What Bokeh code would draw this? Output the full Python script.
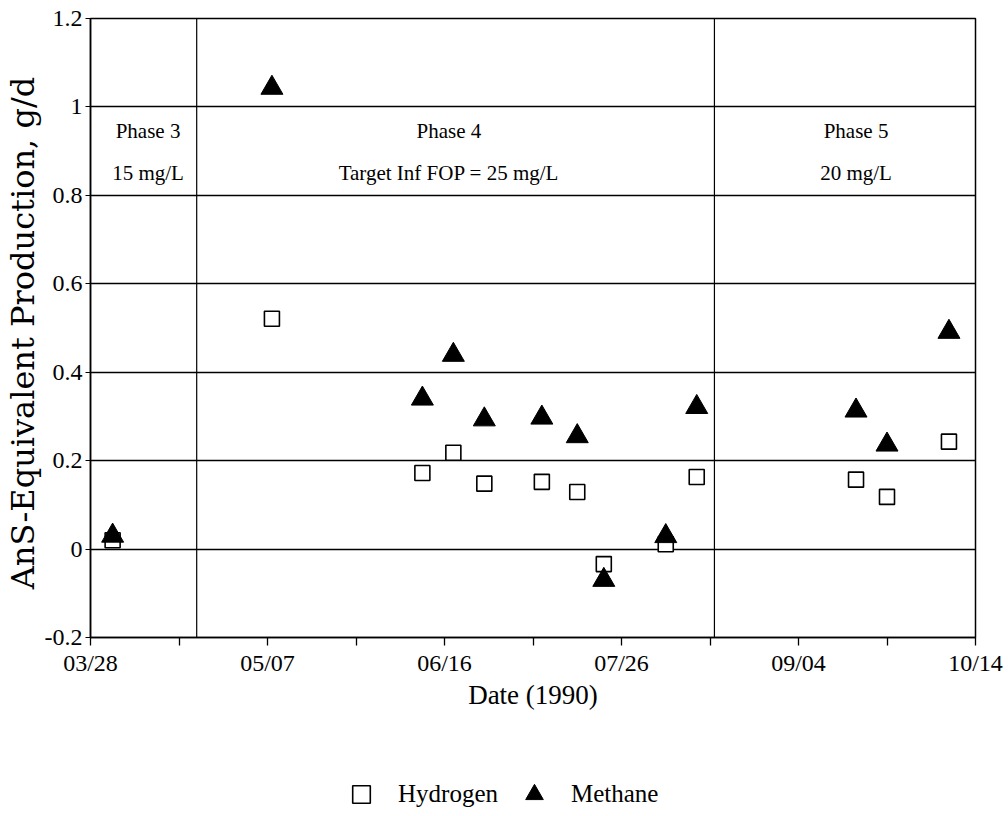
import pandas as pd
from bokeh.plotting import figure
from bokeh.layouts import column
from bokeh.models import (Range1d, FixedTicker, DatetimeTickFormatter, Span,
                          Legend, LegendItem, ColumnDataSource)
from bokeh.core.properties import value
from bokeh.embed import file_html
from bokeh.resources import INLINE

# ---- data ----
hydrogen_dates = ["1990-04-02", "1990-05-08", "1990-06-11", "1990-06-18", "1990-06-25",
                  "1990-07-08", "1990-07-16", "1990-07-22", "1990-08-05", "1990-08-12",
                  "1990-09-17", "1990-09-24", "1990-10-08"]
hydrogen_values = [0.02, 0.521, 0.172, 0.218, 0.148, 0.152, 0.129, -0.034, 0.011, 0.163,
                   0.157, 0.118, 0.243]
methane_dates = ["1990-04-02", "1990-05-08", "1990-06-11", "1990-06-18", "1990-06-25",
                 "1990-07-08", "1990-07-16", "1990-07-22", "1990-08-05", "1990-08-12",
                 "1990-09-17", "1990-09-24", "1990-10-08"]
methane_values = [0.03, 1.043, 0.340, 0.439, 0.293, 0.297, 0.255, -0.070, 0.029, 0.321,
                  0.313, 0.236, 0.491]

phase_boundaries = ["1990-04-21", "1990-08-16"]
phase_label_dates = ["1990-04-10", "1990-06-17", "1990-09-17"]
phase_names = ["Phase 3", "Phase 4", "Phase 5"]
phase_conc = ["15 mg/L", "Target Inf FOP = 25 mg/L", "20 mg/L"]

x_tick_dates = ["1990-03-28", "1990-05-07", "1990-06-16", "1990-07-26", "1990-09-04", "1990-10-14"]
x_minor_dates = ["1990-04-17", "1990-05-27", "1990-07-06", "1990-08-15", "1990-09-24"]
y_ticks = [-0.2, 0, 0.2, 0.4, 0.6, 0.8, 1, 1.2]
y_tick_labels = ["-0.2", "0", "0.2", "0.4", "0.6", "0.8", "1", "1.2"]


def ms(d):
    return pd.Timestamp(d).timestamp() * 1000.0


SERIF = "Liberation Serif"

p = figure(width=1008, height=740, output_backend="svg", toolbar_location=None,
           x_axis_type="datetime",
           x_range=Range1d(ms("1990-03-28"), ms("1990-10-14")),
           y_range=Range1d(-0.2, 1.2),
           min_border_left=89, min_border_right=33, min_border_top=18, min_border_bottom=103)
p.background_fill_color = "white"
p.border_fill_color = "white"
p.outline_line_color = "black"
p.outline_line_width = 1.5

# axes
xa = p.xaxis[0]
xa.ticker = FixedTicker(ticks=[ms(d) for d in x_tick_dates], minor_ticks=[ms(d) for d in x_minor_dates])
fmt = "%m/%d"
xa.formatter = DatetimeTickFormatter(microseconds=fmt, milliseconds=fmt, seconds=fmt, minsec=fmt,
                                     minutes=fmt, hourmin=fmt, hours=fmt, days=fmt, months=fmt, years=fmt)
xa.axis_label = "Date (1990)"
xa.axis_label_text_font = SERIF
xa.axis_label_text_font_size = "27px"
xa.axis_label_text_font_style = "normal"
xa.axis_label_text_color = "black"
xa.axis_label_standoff = 1
xa.major_label_text_font = SERIF
xa.major_label_text_font_size = "24px"
xa.major_label_text_color = "black"
xa.major_label_standoff = 4
xa.major_tick_out = 8
xa.major_tick_in = 0
xa.minor_tick_out = 8
xa.minor_tick_in = 0
xa.axis_line_width = 1.5
xa.major_tick_line_width = 1.3
xa.minor_tick_line_width = 1.3

ya = p.yaxis[0]
ya.ticker = FixedTicker(ticks=y_ticks)
ya.major_label_overrides = {t: lab for t, lab in zip(y_ticks, y_tick_labels)}
ya.axis_label = "AnS-Equivalent Production,  g/d"
ya.axis_label_text_font = "DejaVu Serif"
ya.axis_label_text_font_size = "32px"
ya.axis_label_text_font_style = "normal"
ya.axis_label_text_color = "black"
ya.axis_label_standoff = 0
ya.major_label_text_font = SERIF
ya.major_label_text_font_size = "24px"
ya.major_label_text_color = "black"
ya.major_label_standoff = 3
ya.major_tick_out = 5
ya.major_tick_in = 0
ya.minor_tick_line_color = None
ya.axis_line_width = 1.5

p.xgrid.visible = False
p.ygrid.ticker = FixedTicker(ticks=y_ticks)
p.ygrid.grid_line_color = "black"
p.ygrid.grid_line_width = 1.4

for d in phase_boundaries:
    p.add_layout(Span(location=ms(d), dimension="height", line_color="black", line_width=1.2))

# phase texts
px = [ms(d) for d in phase_label_dates]
p.text(x=px, y=[0.945] * 3, text=phase_names, text_align="center", text_baseline="middle",
       text_font=value(SERIF), text_font_size="21px", text_color="black")
p.text(x=px, y=[0.85] * 3, text=phase_conc, text_align="center", text_baseline="middle",
       text_font=value(SERIF), text_font_size="21px", text_color="black")

hsrc = ColumnDataSource(dict(x=[ms(d) for d in hydrogen_dates], y=hydrogen_values))
msrc = ColumnDataSource(dict(x=[ms(d) for d in methane_dates], y=methane_values))
H_STYLE = dict(marker="square", size=15, fill_color="white", line_color="black", line_width=1.6)
M_STYLE = dict(marker="triangle", size=22, fill_color="black", line_color="black", line_width=1)
rh = p.scatter("x", "y", source=hsrc, **H_STYLE)
rm = p.scatter("x", "y", source=msrc, **M_STYLE)

# ---- legend strip below the plot (series renderers here fall outside its view) ----
lf = figure(width=1008, height=76, output_backend="svg", toolbar_location=None,
            x_axis_location=None, y_axis_location=None,
            x_range=Range1d(0, 1), y_range=Range1d(0, 1),
            min_border_left=0, min_border_right=0, min_border_top=0, min_border_bottom=0)
lf.grid.visible = False
lf.outline_line_color = None
lf.background_fill_color = "white"
lf.border_fill_color = "white"
lh = lf.scatter("x", "y", source=hsrc, **H_STYLE)
lm = lf.scatter("x", "y", source=msrc, **M_STYLE)

legend = Legend(items=[LegendItem(label="Hydrogen", renderers=[lh]),
                       LegendItem(label="Methane", renderers=[lm])],
                orientation="horizontal", location=(249, 0))
legend.border_line_color = None
legend.background_fill_alpha = 0
legend.padding = 0
legend.margin = 0
legend.label_text_font = SERIF
legend.label_text_font_size = "25px"
legend.label_text_color = "black"
legend.spacing = 14
legend.label_standoff = 15
legend.glyph_width = 44
legend.glyph_height = 44
lf.add_layout(legend, "center")

layout = column(p, lf, spacing=0)
open("out.html", "w").write(file_html(layout, INLINE))
